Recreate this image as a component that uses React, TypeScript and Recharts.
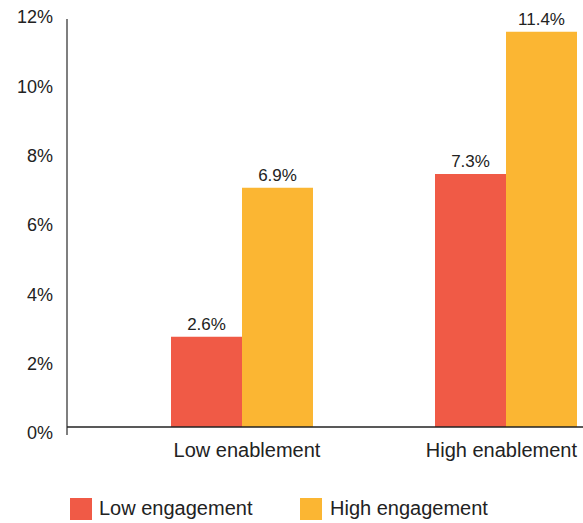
import React from 'react';
import { BarChart, Bar, XAxis, YAxis, LabelList } from 'recharts';

const categories = ['Low enablement', 'High enablement'];
const lowEngagement = [2.6, 7.3];
const highEngagement = [6.9, 11.4];
const yTicks = [0, 2, 4, 6, 8, 10, 12];
const seriesNames = ['Low engagement', 'High engagement'];

const RED = '#F05A46';
const ORANGE = '#FBB633';
const FONT = '"Liberation Sans", Arial, sans-serif';
const TEXT = '#222';

const data = categories.map((name, i) => ({
  name,
  low: lowEngagement[i],
  high: highEngagement[i],
}));

const YTick = (props: any) => {
  const { x, y, payload } = props;
  return (
    <text x={x} y={y + 6} dy="0.35em" textAnchor="end" fontSize={18} fill={TEXT} fontFamily={FONT}>
      {`${payload.value}%`}
    </text>
  );
};

const XTick = (props: any) => {
  const { x, y, payload, index } = props;
  const last = index === categories.length - 1;
  return (
    <text
      x={last ? x + 71 : x + 5}
      y={y + 22}
      textAnchor={last ? 'end' : 'middle'}
      fontSize={20}
      fill={TEXT}
      fontFamily={FONT}
    >
      {payload.value}
    </text>
  );
};

const App: React.FC = () => {
  return (
    <div style={{ position: 'absolute', left: 0, top: 0, width: 583, height: 523, overflow: 'hidden', background: '#fff' }}>
      <BarChart
        width={640}
        height={523}
        data={data}
        margin={{ top: 11, right: 2, left: 0, bottom: 66 }}
        barGap={0}
      >
        <YAxis
          width={67}
          domain={[0, 12]}
          ticks={yTicks}
          tickLine={false}
          tickSize={0}
          tickMargin={14}
          axisLine={false}
          tick={<YTick />}
        />
        <XAxis
          dataKey="name"
          height={30}
          padding={{ left: 43, right: 0 }}
          tickLine={false}
          axisLine={{ stroke: '#222', strokeWidth: 1.5 }}
          tick={<XTick />}
          interval={0}
        />
        <Bar dataKey="low" name={seriesNames[0]} fill={RED} barSize={71} isAnimationActive={false}>
          <LabelList
            dataKey="low"
            position="top"
            offset={7}
            formatter={(v: any) => `${v}%`}
            style={{ fontSize: 17, fill: TEXT, fontFamily: FONT }}
          />
        </Bar>
        <Bar dataKey="high" name={seriesNames[1]} fill={ORANGE} barSize={71} isAnimationActive={false}>
          <LabelList
            dataKey="high"
            position="top"
            offset={7}
            formatter={(v: any) => `${v}%`}
            style={{ fontSize: 17, fill: TEXT, fontFamily: FONT }}
          />
        </Bar>
        <line x1={67} y1={19} x2={67} y2={435} stroke="#555" strokeWidth={1.5} />
      </BarChart>
      <div style={{ position: 'absolute', left: 70, top: 497, display: 'flex', alignItems: 'center', fontFamily: FONT, fontSize: 20, color: TEXT }}>
        <span style={{ width: 22, height: 22, background: RED, display: 'inline-block' }} />
        <span style={{ marginLeft: 7, width: 201 }}>{seriesNames[0]}</span>
        <span style={{ width: 22, height: 22, background: ORANGE, display: 'inline-block' }} />
        <span style={{ marginLeft: 8 }}>{seriesNames[1]}</span>
      </div>
    </div>
  );
};

export default App;
